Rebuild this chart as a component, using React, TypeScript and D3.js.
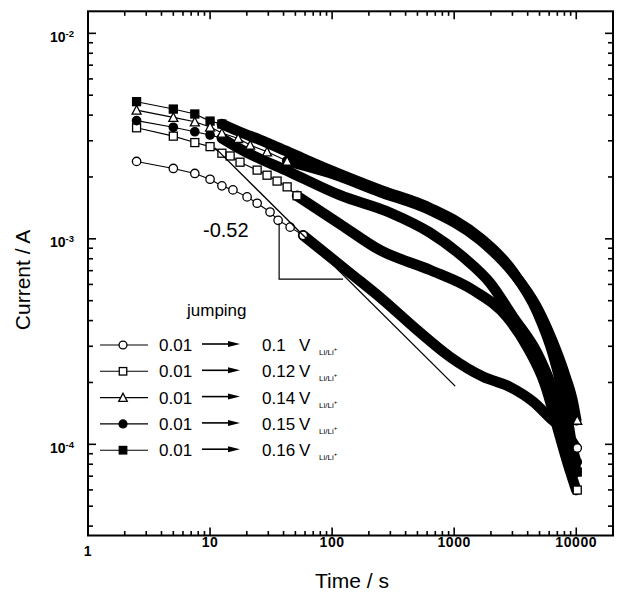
import React from 'react';
import * as d3 from 'd3';

// ---------- data ----------
const targetPotentials = ['0.1', '0.12', '0.14', '0.15', '0.16'];
const startPotential = '0.01';
const legendTitle = 'jumping';
const xTickLabels = ['1', '10', '100', '1000', '10000'];
const yTickExponents = ['-2', '-3', '-4'];
const xTitle = 'Time / s';
const yTitle = 'Current / A';
const slopeText = '-0.52';

// 0.01 -> 0.1 V (open circles)
const time01 = [2.5, 5, 7.5, 10, 12.5, 15.4, 20.1, 24.3, 31, 36.1, 45.3, 57.9, 140, 262, 497, 927, 1729, 2877, 4443, 6124, 8128, 10000];
const cur01 = [2.38e-3, 2.2e-3, 2.08e-3, 1.95e-3, 1.81e-3, 1.73e-3, 1.6e-3, 1.49e-3, 1.35e-3, 1.23e-3, 1.14e-3, 1.04e-3, 6.82e-4, 5.04e-4, 3.6e-4, 2.66e-4, 2.13e-4, 1.9e-4, 1.61e-4, 1.34e-4, 1.15e-4, 9.6e-5];
// 0.01 -> 0.12 V (open squares)
const time012 = [2.5, 5, 7.5, 10, 12.5, 14.6, 17.6, 24.3, 29.3, 35.4, 42.8, 51.6, 116, 247, 636, 1431, 2718, 3966, 5571, 7112, 8590, 10000];
const cur012 = [3.47e-3, 3.16e-3, 2.94e-3, 2.81e-3, 2.61e-3, 2.53e-3, 2.36e-3, 2.16e-3, 2.04e-3, 1.91e-3, 1.79e-3, 1.62e-3, 1.18e-3, 8.8e-4, 7.05e-4, 5.63e-4, 4.16e-4, 2.98e-4, 1.94e-4, 1.17e-4, 7.93e-5, 5.99e-5];
// 0.01 -> 0.14 V (open triangles)
const time014 = [2.5, 5, 7.5, 10, 12.5, 17, 21.3, 29.3, 42.8, 96.3, 247, 636, 1633, 3048, 4790, 6475, 8128, 9270, 10000];
const cur014 = [4.23e-3, 3.9e-3, 3.71e-3, 3.5e-3, 3.27e-3, 3.08e-3, 2.86e-3, 2.65e-3, 2.39e-3, 2.09e-3, 1.69e-3, 1.38e-3, 9.87e-4, 6.82e-4, 4.61e-4, 3.11e-4, 2.15e-4, 1.66e-4, 1.31e-4];
// 0.01 -> 0.15 V (filled circles)
const time015 = [2.5, 5, 7.5, 10, 12.5, 17.6, 45.3, 116, 299, 636, 1185, 1972, 3048, 4790, 6475, 8128, 10000];
const cur015 = [3.76e-3, 3.49e-3, 3.32e-3, 3.2e-3, 3.09e-3, 2.74e-3, 2.11e-3, 1.63e-3, 1.34e-3, 1.07e-3, 8.15e-4, 6.09e-4, 4.16e-4, 2.78e-4, 1.84e-4, 1.24e-4, 8.2e-5];
// 0.01 -> 0.16 V (filled squares)
const time016 = [2.5, 5, 7.5, 10, 12.5, 17.6, 25.7, 45.3, 96.3, 247, 636, 1633, 3048, 4790, 6475, 7818, 8925, 10000];
const cur016 = [4.65e-3, 4.28e-3, 4.05e-3, 3.74e-3, 3.62e-3, 3.31e-3, 3.03e-3, 2.62e-3, 2.16e-3, 1.73e-3, 1.41e-3, 1.01e-3, 6.89e-4, 4.4e-4, 2.72e-4, 1.74e-4, 1.11e-4, 7.33e-5];

// slope guide line and triangle
const slopeLineTime = [11, 1019];
const slopeLineCur = [2.77e-3, 1.92e-4];
const triangleTime = [36.8, 36.8, 123];
const triangleCur = [1.19e-3, 6.37e-4, 6.37e-4];

// ---------- styling / layout ----------
const W = 618;
const H = 592;
const FONT = '"Liberation Sans", Arial, Helvetica, sans-serif';
const left = 88, right = 613, top = 11.3, bottom = 535.5;
const BAND = 10.5;

type Shape = 'circle' | 'square' | 'triangle';
const seriesDefs = [
  { t: time01, c: cur01, shape: 'circle' as Shape, filled: false, discrete: 12 },
  { t: time012, c: cur012, shape: 'square' as Shape, filled: false, discrete: 12 },
  { t: time014, c: cur014, shape: 'triangle' as Shape, filled: false, discrete: 9 },
  { t: time015, c: cur015, shape: 'circle' as Shape, filled: true, discrete: 5 },
  { t: time016, c: cur016, shape: 'square' as Shape, filled: true, discrete: 5 },
];
const drawOrder = [0, 1, 3, 4, 2];

function Marker({ x, y, shape, filled, s = 9 }: { x: number; y: number; shape: Shape; filled: boolean; s?: number }) {
  const fill = filled ? '#000' : '#fff';
  const sw = 1.3;
  if (shape === 'circle') return <circle cx={x} cy={y} r={s / 2 - 0.3} fill={fill} stroke="#000" strokeWidth={sw} />;
  if (shape === 'square') return <rect x={x - s / 2 + 0.5} y={y - s / 2 + 0.5} width={s - 1} height={s - 1} fill={fill} stroke="#000" strokeWidth={sw} />;
  const h = s * 0.9;
  return (
    <path
      d={`M${x},${y - h / 2 - 0.5} L${x + s / 2},${y + h / 2} L${x - s / 2},${y + h / 2} Z`}
      fill={fill}
      stroke="#000"
      strokeWidth={sw}
      strokeLinejoin="miter"
    />
  );
}

export default function App() {
  React.useEffect(() => {
    document.body.style.margin = '0';
  }, []);

  const x = d3.scaleLog().domain([1, 20000]).range([left, right]);
  const y = d3.scaleLog().domain([3.6e-5, 1.28e-2]).range([bottom, top]);

  const isMajor = (v: number) => Math.abs(Math.log10(v) - Math.round(Math.log10(v))) < 1e-6;
  const xTicks = x.ticks();
  const yTicks = y.ticks();

  const band = d3
    .line<[number, number]>()
    .x((d) => x(d[0]))
    .y((d) => y(d[1]))
    .curve(d3.curveMonotoneX);
  const thin = d3
    .line<[number, number]>()
    .x((d) => x(d[0]))
    .y((d) => y(d[1]));

  const majorX = xTicks.filter(isMajor);
  const majorY = yTicks.filter(isMajor);

  const legendRowY = (i: number) => 345 + i * 26.3;
  const legendMarkers = [
    { shape: 'circle' as Shape, filled: false },
    { shape: 'square' as Shape, filled: false },
    { shape: 'triangle' as Shape, filled: false },
    { shape: 'circle' as Shape, filled: true },
    { shape: 'square' as Shape, filled: true },
  ];

  return (
    <svg width={W} height={H} style={{ position: 'absolute', left: 0, top: 0, background: '#fff' }} fontFamily={FONT}>
      <rect x={0} y={0} width={W} height={H} fill="#fff" />

      {/* thick dense bands */}
      {drawOrder.map((si) => {
        const s = seriesDefs[si];
        const pts = s.t.map((t, i) => [t, s.c[i]] as [number, number]).slice(s.discrete - 1);
        return (
          <path key={'band' + si} d={band(pts) || ''} fill="none" stroke="#000" strokeWidth={BAND} strokeLinecap="round" strokeLinejoin="round" />
        );
      })}

      {/* thin connecting lines between discrete early points */}
      {drawOrder.map((si) => {
        const s = seriesDefs[si];
        const pts = s.t.map((t, i) => [t, s.c[i]] as [number, number]).slice(0, s.discrete);
        return <path key={'thin' + si} d={thin(pts) || ''} fill="none" stroke="#000" strokeWidth={1.1} />;
      })}

      {/* discrete markers */}
      {drawOrder.map((si) => {
        const s = seriesDefs[si];
        return (
          <g key={'mk' + si}>
            {s.t.slice(0, s.discrete).map((t, i) => (
              <Marker key={i} x={x(t)} y={y(s.c[i])} shape={s.shape} filled={s.filled} />
            ))}
          </g>
        );
      })}

      {/* end markers */}
      {drawOrder.map((si) => {
        const s = seriesDefs[si];
        const n = s.t.length - 1;
        return <Marker key={'end' + si} x={x(s.t[n]) + 1} y={y(s.c[n])} shape={s.shape} filled={s.filled} />;
      })}

      {/* slope guide */}
      <line
        x1={x(slopeLineTime[0])}
        y1={y(slopeLineCur[0])}
        x2={x(slopeLineTime[1])}
        y2={y(slopeLineCur[1])}
        stroke="#000"
        strokeWidth={1.3}
      />
      <polyline
        points={triangleTime.map((t, i) => `${x(t)},${y(triangleCur[i])}`).join(' ')}
        fill="none"
        stroke="#000"
        strokeWidth={1.2}
      />
      <text x={203} y={237} fontSize={20} fill="#000">
        {slopeText}
      </text>

      {/* frame */}
      <rect x={left} y={top} width={right - left} height={bottom - top} fill="none" stroke="#000" strokeWidth={2} />

      {/* x ticks */}
      {xTicks.map((v, i) => {
        const len = isMajor(v) ? 8 : 4.5;
        const xx = x(v);
        return (
          <g key={'xt' + i}>
            <line x1={xx} x2={xx} y1={bottom} y2={bottom - len} stroke="#000" strokeWidth={1.6} />
            <line x1={xx} x2={xx} y1={top} y2={top + len} stroke="#000" strokeWidth={1.6} />
          </g>
        );
      })}
      {/* y ticks */}
      {yTicks.map((v, i) => {
        const len = isMajor(v) ? 8 : 5;
        const yy = y(v);
        return (
          <g key={'yt' + i}>
            <line x1={left} x2={left + len} y1={yy} y2={yy} stroke="#000" strokeWidth={1.6} />
            <line x1={right} x2={right - len} y1={yy} y2={yy} stroke="#000" strokeWidth={1.6} />
          </g>
        );
      })}

      {/* x tick labels */}
      {majorX.map((v, i) => (
        <text
          key={'xl' + i}
          x={x(v)}
          y={i === 0 ? 556 : 547}
          textAnchor="middle"
          fontSize={14}
          fontWeight="bold"
          letterSpacing={0.6}
          fill="#000"
        >
          {xTickLabels[i]}
        </text>
      ))}

      {/* y tick labels */}
      {majorY
        .slice()
        .sort((a, b) => b - a)
        .map((v, i) => (
          <text key={'yl' + i} x={74} y={y(v) + 8.5} textAnchor="end" fontWeight="bold" fill="#000">
            <tspan fontSize={14}>10</tspan>
            <tspan fontSize={9.5} dy={-5}>
              {yTickExponents[i]}
            </tspan>
          </text>
        ))}

      {/* axis titles */}
      <text x={352} y={588} textAnchor="middle" fontSize={21} fill="#000">
        {xTitle}
      </text>
      <text transform="translate(29.5,280) rotate(-90)" textAnchor="middle" fontSize={21} fill="#000">
        {yTitle}
      </text>

      {/* legend */}
      <text x={187} y={316} fontSize={17} fill="#000">
        {legendTitle}
      </text>
      {targetPotentials.map((p, i) => {
        const ry = legendRowY(i);
        const m = legendMarkers[i];
        return (
          <g key={'lg' + i}>
            <line x1={100} x2={148} y1={ry} y2={ry} stroke="#000" strokeWidth={1.1} />
            <Marker x={123} y={ry} shape={m.shape} filled={m.filled} s={8.5} />
            <text x={159} y={ry + 6} fontSize={17} fill="#000">
              {startPotential}
            </text>
            <line x1={202} x2={230} y1={ry - 1} y2={ry - 1} stroke="#000" strokeWidth={1.6} />
            <path d={`M228,${ry - 4} L240,${ry - 1} L228,${ry + 2} Z`} fill="#000" />
            <text x={262} y={ry + 6} fontSize={17} fill="#000">
              {p}
            </text>
            <text x={299} y={ry + 6} fontSize={17} fill="#000">
              V
            </text>
            <text x={319} y={ry + 10} fontSize={8} fill="#000">
              Li/Li
              <tspan fontSize={6} dy={-4}>
                +
              </tspan>
            </text>
          </g>
        );
      })}
    </svg>
  );
}
